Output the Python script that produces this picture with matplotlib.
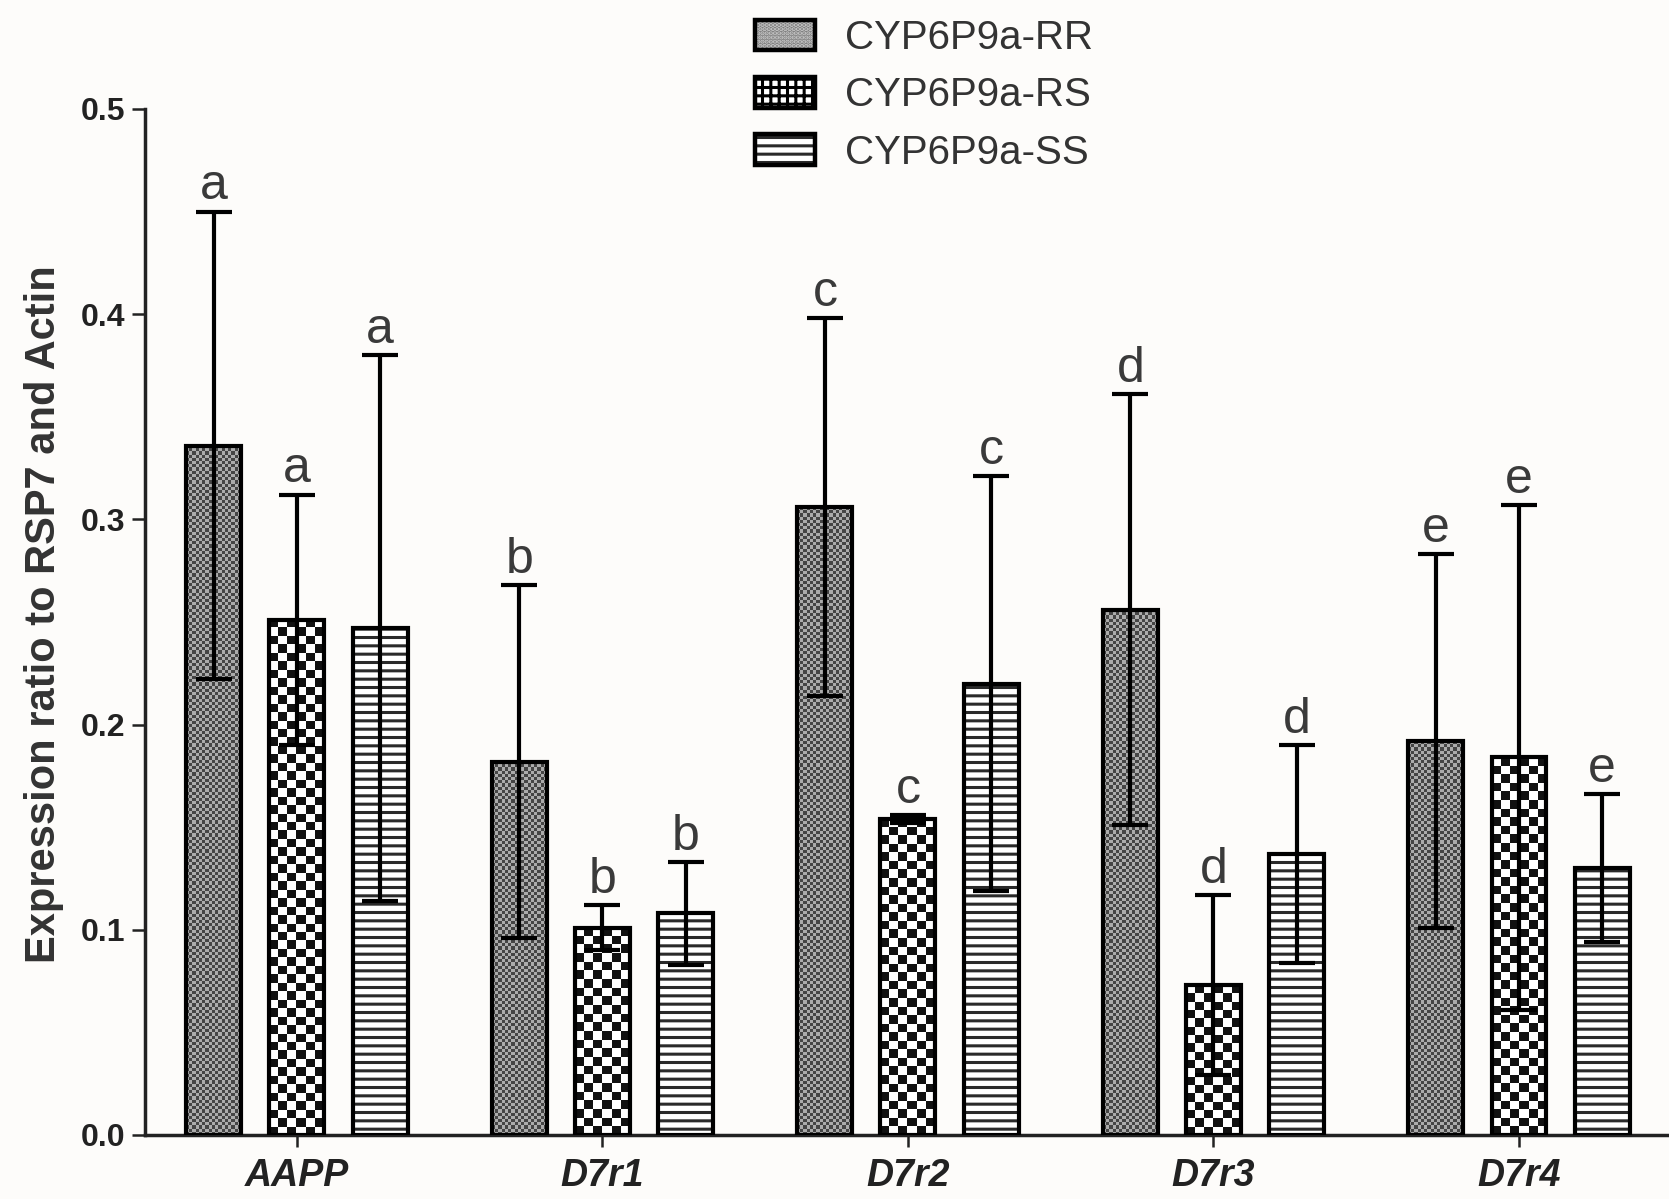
import numpy as np
import matplotlib
matplotlib.use('Agg')
import matplotlib.pyplot as plt
from matplotlib.patches import Patch
from matplotlib.legend_handler import HandlerTuple

plt.rcParams['font.family'] = ['Liberation Sans', 'DejaVu Sans']
plt.rcParams['hatch.linewidth'] = 2.2

# data
genes = ['AAPP', 'D7r1', 'D7r2', 'D7r3', 'D7r4']
genotypes = ['CYP6P9a-RR', 'CYP6P9a-RS', 'CYP6P9a-SS']
rr_mean = [0.336, 0.182, 0.306, 0.256, 0.192]
rr_err = [0.114, 0.086, 0.092, 0.105, 0.091]
rs_mean = [0.251, 0.101, 0.154, 0.073, 0.184]
rs_err = [0.061, 0.011, 0.002, 0.044, 0.123]
ss_mean = [0.247, 0.108, 0.220, 0.137, 0.130]
ss_err = [0.133, 0.025, 0.101, 0.053, 0.036]
letters = ['a', 'b', 'c', 'd', 'e']

W, H = 1669, 1199
bg = '#fdfcfa'
fig = plt.figure(figsize=(W / 100, H / 100), dpi=100, facecolor=bg)
ax = fig.add_axes([145 / W, 1 - 1135 / H, 1 - 145 / W, (1135 - 109) / H])
ax.set_facecolor(bg)

xlim = (-0.4975, 4.491)
ylim = (0, 0.5)
px_x = (W - 145) / (xlim[1] - xlim[0])
px_y = (1135 - 109) / (ylim[1] - ylim[0])

x = np.arange(len(genes))
offs = [-0.272, 0.0, 0.272]
bw = 0.18


def checker(xc, h, cell, c1, c2):
    # draws a checkerboard texture inside one bar
    cols = max(1, int(round(bw * px_x / cell)))
    rows = max(1, int(round(h * px_y / cell)))
    img = np.indices((rows, cols)).sum(axis=0) % 2
    cmap = matplotlib.colors.ListedColormap([c1, c2])
    ax.imshow(img, cmap=cmap, extent=(xc - bw / 2, xc + bw / 2, 0, h),
              aspect='auto', interpolation='nearest', zorder=2, origin='lower')


for i in range(len(genes)):
    checker(x[i] + offs[0], rr_mean[i], 3.2, '#454545', '#ababab')
    checker(x[i] + offs[1], rs_mean[i], 8.5, '#111111', '#ffffff')

ax.bar(x + offs[2], ss_mean, bw, color='white', hatch='--', edgecolor='#2a2a2a',
       linewidth=0, zorder=2)

means = [rr_mean, rs_mean, ss_mean]
errs = [rr_err, rs_err, ss_err]
for k in range(3):
    ax.errorbar(x + offs[k], means[k], yerr=errs[k], fmt='none', ecolor='black',
                elinewidth=3, capsize=13, capthick=3, zorder=3)
    ax.bar(x + offs[k], means[k], bw, fill=False, edgecolor='black',
           linewidth=3, zorder=4)
    for i in range(len(genes)):
        ax.text(x[i] + offs[k], means[k][i] + errs[k][i] + 0.006, letters[i],
                ha='center', va='baseline', fontsize=36, color='#3a3a3a', zorder=5)

ax.set_xlim(xlim)
ax.set_ylim(ylim)

ax.set_xticks(x, genes, fontstyle='italic', fontweight='bold', fontsize=27)
ax.set_yticks(np.arange(0, 0.51, 0.1))
ax.set_yticklabels(['%.1f' % v for v in np.arange(0, 0.51, 0.1)],
                   fontweight='bold', fontsize=23)
ax.tick_params(axis='x', length=8.6, width=1.8, pad=8, colors='#222222')
ax.tick_params(axis='y', length=9.4, width=1.8, pad=5, colors='#222222')

for s in ['top', 'right']:
    ax.spines[s].set_visible(False)
for s in ['left', 'bottom']:
    ax.spines[s].set_linewidth(2.5)
    ax.spines[s].set_color('#222222')

ax.set_ylabel('Expression ratio to RSP7 and Actin', fontsize=30,
              fontweight='bold', color='#333333')
ax.yaxis.set_label_coords(-0.053, 0.508)

outline = dict(fill=False, edgecolor='black', linewidth=3.2)
handles = [
    (Patch(facecolor='#7a7a7a', hatch='....', edgecolor='#c8c8c8', linewidth=0),
     Patch(**outline)),
    (Patch(facecolor='white', hatch='++', edgecolor='black', linewidth=0),
     Patch(**outline)),
    (Patch(facecolor='white', hatch='--', edgecolor='#2a2a2a', linewidth=0),
     Patch(**outline)),
]
leg = fig.legend(handles, genotypes, loc='upper left',
                 bbox_to_anchor=(755 / W, 1 - 19 / H), bbox_transform=fig.transFigure,
                 frameon=False, fontsize=29, handlelength=1.49, handleheight=0.8,
                 handletextpad=0.74, labelspacing=0.48, borderpad=0, borderaxespad=0,
                 handler_map={tuple: HandlerTuple(ndivide=1, pad=0)})
for t in leg.get_texts():
    t.set_color('#333333')

fig.savefig('out.png', dpi=100, facecolor=bg)
